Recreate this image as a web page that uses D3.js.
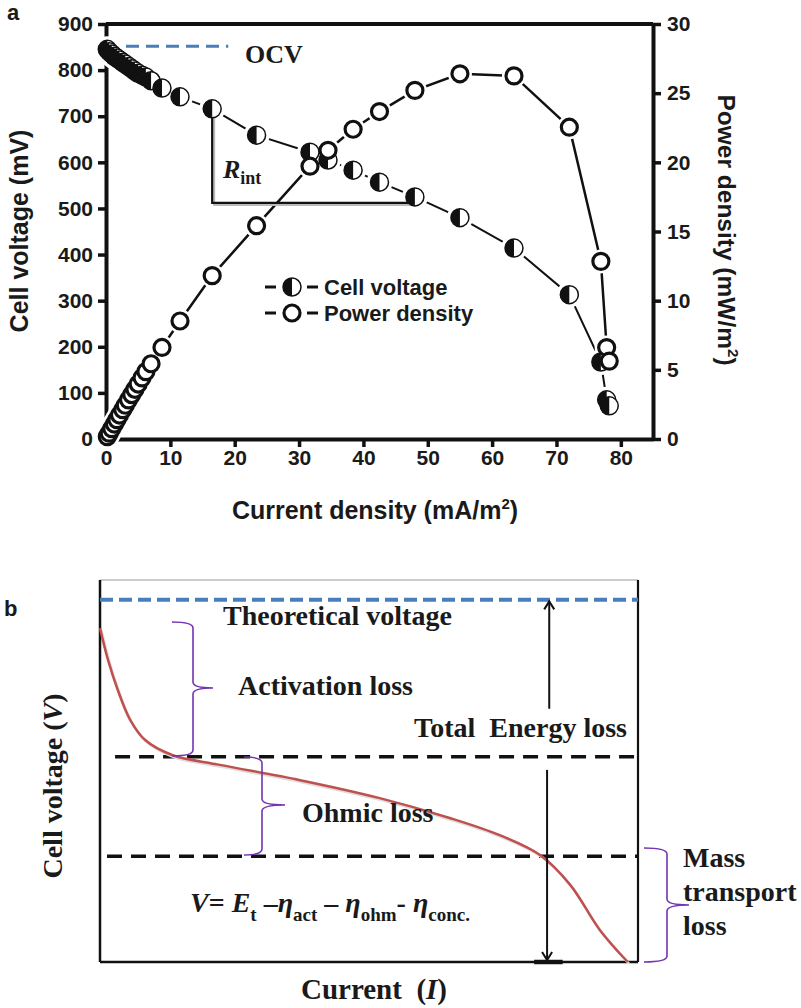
<!DOCTYPE html>
<html>
<head>
<meta charset="utf-8">
<script src="https://cdn.jsdelivr.net/npm/d3@7"></script>
<style>
  body { margin: 0; background: #fff; }
  svg { display: block; }
  .sans { font-family: "Liberation Sans", Arial, sans-serif; font-weight: bold; fill: #1a1a1a; }
  .serif { font-family: "Liberation Serif", "Times New Roman", serif; font-weight: bold; fill: #1a1a1a; }
</style>
</head>
<body>
<div id="chart"></div>
<script>
// ---- panel a: polarization + power density curve ----
const currentDensity = [0.2, 0.5, 0.9, 1.3, 1.7, 2.1, 2.6, 3.0, 3.5, 4.0, 4.5, 5.0, 5.6, 6.2, 7.0, 8.7,
    11.5, 16.5, 23.4, 31.7, 34.5, 38.4, 42.5, 48.0, 55.0, 63.4, 72.0, 76.9, 77.8, 78.2];
const cellVoltage = [845, 840, 835, 830, 826, 822, 817, 813, 808, 803, 798, 793, 789, 785, 777, 761,
    742, 716, 659, 622, 605, 583, 557, 525, 480, 414, 313, 167, 85, 72];
const powerDensity = [0.17, 0.42, 0.75, 1.08, 1.40, 1.73, 2.12, 2.44, 2.83, 3.21, 3.59, 3.97, 4.42, 4.87, 5.44, 6.62,
    8.53, 11.81, 15.42, 19.72, 20.87, 22.39, 23.67, 25.2, 26.4, 26.25, 22.54, 12.84, 6.61, 5.63];
const currentTicks = [0, 10, 20, 30, 40, 50, 60, 70, 80];
const voltageTicks = [0, 100, 200, 300, 400, 500, 600, 700, 800, 900];
const powerTicks = [0, 5, 10, 15, 20, 25, 30];
const ocvVoltage = 852;
const ocvCurrentEnd = 19;
// R_int triangle: from the 16.5 mA/m2 point down, then across to the 48 mA/m2 point
const rintCurrent = [16.5, 48.0];
const rintVoltage = [716, 512];

// ---- panel b: schematic polarization curve (arbitrary units 0-100) ----
const schematicCurrent = [0, 1.5, 3.3, 5.6, 8.4, 13.4, 22.3, 37.2, 52, 65, 74.3, 81.8, 87.4, 92.9, 98.1];
const schematicVoltage = [87.4, 79, 71.2, 63.4, 58.1, 54.2, 51.6, 47.6, 42.9, 37.7, 33.2, 28, 20.2, 8.4, 0];
const theoreticalLevel = 94.8;
const lossBoundaries = [53.7, 27.7];

const width = 801;
const height = 1008;
const svg = d3.select('#chart').append('svg')
    .attr('width', width)
    .attr('height', height);

const BLACK = '#111';
const BLUE = '#4a7ebb';
const RED = '#c0504d';
const PURPLE = '#7434b4';

function styleAxis(g, size) {
    g.attr('font-family', '"Liberation Sans", Arial, sans-serif')
        .attr('font-size', size)
        .attr('font-weight', 'bold');
    g.select('.domain').attr('stroke', BLACK).attr('stroke-width', 4);
    g.selectAll('.tick line').attr('stroke', BLACK).attr('stroke-width', 3.5);
    g.selectAll('.tick text').attr('fill', '#1a1a1a');
}

function halfMarker(g, r) {
    g.append('circle').attr('r', r).attr('fill', '#fff').attr('stroke', BLACK).attr('stroke-width', 1.5);
    g.append('path').attr('d', `M0,${-r} A${r},${r} 0 0,0 0,${r} Z`).attr('fill', BLACK);
}

function openMarker(g, r) {
    g.append('circle').attr('r', r).attr('fill', '#fff').attr('stroke', BLACK).attr('stroke-width', 3.2);
}

function drawPanelA() {
    const x = d3.scaleLinear().domain([0, 85]).range([106, 653]);
    const yV = d3.scaleLinear().domain([0, 900]).range([439, 24]);
    const yP = d3.scaleLinear().domain([0, 30]).range([439, 24]);
    const pts = currentDensity.map((c, i) => ({c, v: cellVoltage[i], p: powerDensity[i]}));

    const root = svg.append('g').classed('panel-a', true);

    // frame top
    root.append('line')
        .attr('x1', x(0)).attr('x2', x(85))
        .attr('y1', yV(900)).attr('y2', yV(900))
        .attr('stroke', BLACK).attr('stroke-width', 4);

    root.append('g')
        .attr('transform', `translate(0,${yV(0)})`)
        .call(d3.axisBottom(x).tickValues(currentTicks).tickSize(8).tickSizeOuter(0).tickPadding(3))
        .call(g => styleAxis(g, 21));
    root.append('g')
        .attr('transform', `translate(${x(0)},0)`)
        .call(d3.axisLeft(yV).tickValues(voltageTicks).tickSize(8).tickSizeOuter(0).tickPadding(5))
        .call(g => styleAxis(g, 21));
    root.append('g')
        .attr('transform', `translate(${x(85)},0)`)
        .call(d3.axisRight(yP).tickValues(powerTicks).tickSize(8).tickSizeOuter(0).tickPadding(6))
        .call(g => styleAxis(g, 21));

    // OCV line
    root.append('line')
        .attr('x1', x(0)).attr('x2', x(ocvCurrentEnd))
        .attr('y1', yV(ocvVoltage)).attr('y2', yV(ocvVoltage))
        .attr('stroke', BLUE).attr('stroke-width', 3)
        .attr('stroke-dasharray', '13,7');
    root.append('text').attr('class', 'serif')
        .attr('x', 245).attr('y', 63)
        .attr('font-size', 26)
        .text('OCV');

    const vLine = d3.line().x(d => x(d.c)).y(d => yV(d.v));
    const pLine = d3.line().x(d => x(d.c)).y(d => yP(d.p));
    root.append('path').attr('d', vLine(pts))
        .attr('fill', 'none').attr('stroke', BLACK).attr('stroke-width', 2);
    root.append('path').attr('d', pLine(pts))
        .attr('fill', 'none').attr('stroke', BLACK).attr('stroke-width', 2.5);

    // white halos so lines stop short of the markers
    const halos = root.append('g');
    pts.forEach(d => {
        halos.append('circle').attr('cx', x(d.c)).attr('cy', yV(d.v)).attr('r', 13).attr('fill', '#fff');
        halos.append('circle').attr('cx', x(d.c)).attr('cy', yP(d.p)).attr('r', 12).attr('fill', '#fff');
    });

    // R_int construction
    root.append('path')
        .attr('d', `M${x(rintCurrent[0]) + 2},${yV(rintVoltage[0]) + 2}V${yV(rintVoltage[1]) + 2}H${x(rintCurrent[1]) + 2}`)
        .attr('fill', 'none').attr('stroke', '#bbb').attr('stroke-width', 2);
    root.append('path')
        .attr('d', `M${x(rintCurrent[0])},${yV(rintVoltage[0])}V${yV(rintVoltage[1])}H${x(rintCurrent[1])}`)
        .attr('fill', 'none').attr('stroke', BLACK).attr('stroke-width', 2.2);
    const rt = root.append('text').attr('class', 'serif').attr('x', 223).attr('y', 178);
    rt.append('tspan').attr('font-size', 26).attr('font-style', 'italic').text('R');
    rt.append('tspan').attr('font-size', 18).attr('dy', 6).text('int');

    root.append('g').selectAll('g')
        .data(pts).join('g')
        .attr('transform', d => `translate(${x(d.c)},${yV(d.v)})`)
        .each(function() { halfMarker(d3.select(this), 9); });
    root.append('g').selectAll('g')
        .data(pts).join('g')
        .attr('transform', d => `translate(${x(d.c)},${yP(d.p)})`)
        .each(function() { openMarker(d3.select(this), 8); });

    // legend
    const legend = root.append('g');
    [['Cell voltage', halfMarker, 287], ['Power density', openMarker, 313]].forEach(([label, fn, ly]) => {
        legend.append('line').attr('x1', 265).attr('x2', 276).attr('y1', ly).attr('y2', ly)
            .attr('stroke', BLACK).attr('stroke-width', 3);
        legend.append('line').attr('x1', 307).attr('x2', 318).attr('y1', ly).attr('y2', ly)
            .attr('stroke', BLACK).attr('stroke-width', 3);
        const m = legend.append('g').attr('transform', `translate(292,${ly})`);
        fn(m, fn === halfMarker ? 9 : 8);
        legend.append('text').attr('class', 'sans')
            .attr('x', 324).attr('y', ly + 8)
            .attr('font-size', 22)
            .text(label);
    });

    // axis titles
    root.append('text').attr('class', 'sans')
        .attr('transform', 'translate(28,231) rotate(-90)')
        .attr('text-anchor', 'middle')
        .attr('font-size', 25)
        .text('Cell voltage (mV)');
    const xt = root.append('text').attr('class', 'sans')
        .attr('x', 375).attr('y', 519)
        .attr('text-anchor', 'middle')
        .attr('font-size', 25);
    xt.append('tspan').text('Current density (mA/m');
    xt.append('tspan').attr('font-size', 15).attr('dy', -10).text('2');
    xt.append('tspan').attr('dy', 10).text(')');
    const pt = root.append('text').attr('class', 'sans')
        .attr('transform', 'translate(718,230) rotate(90)')
        .attr('text-anchor', 'middle')
        .attr('font-size', 24.5);
    pt.append('tspan').text('Power density (mW/m');
    pt.append('tspan').attr('font-size', 15).attr('dy', -10).text('2');
    pt.append('tspan').attr('dy', 10).text(')');

    root.append('text').attr('class', 'sans')
        .attr('x', 7).attr('y', 20).attr('font-size', 22).text('a');
}

function brace(g, xv, yTop, yTip, yBot, hook, tip) {
    const c = 6;
    const d = `M${xv - hook},${yTop} Q${xv},${yTop} ${xv},${yTop + c}` +
        ` L${xv},${yTip - c} Q${xv},${yTip} ${xv + tip},${yTip}` +
        ` Q${xv},${yTip} ${xv},${yTip + c} L${xv},${yBot - c} Q${xv},${yBot} ${xv - hook},${yBot}`;
    g.append('path').attr('d', d)
        .attr('fill', 'none').attr('stroke', PURPLE).attr('stroke-width', 1.6);
}

function arrow(g, xv, yFrom, yTo) {
    const dir = yTo > yFrom ? 1 : -1;
    g.append('line').attr('x1', xv).attr('x2', xv).attr('y1', yFrom).attr('y2', yTo)
        .attr('stroke', BLACK).attr('stroke-width', 2);
    g.append('path')
        .attr('d', `M${xv - 5},${yTo - dir * 8} L${xv},${yTo} L${xv + 5},${yTo - dir * 8}`)
        .attr('fill', 'none').attr('stroke', BLACK).attr('stroke-width', 2);
}

function drawPanelB() {
    const x = d3.scaleLinear().domain([0, 100]).range([100, 638]);
    const y = d3.scaleLinear().domain([0, 100]).range([962, 580]);
    const pts = schematicCurrent.map((c, i) => ({c, v: schematicVoltage[i]}));
    const root = svg.append('g').classed('panel-b', true);

    // box
    root.append('line').attr('x1', x(0)).attr('x2', x(100)).attr('y1', y(100)).attr('y2', y(100))
        .attr('stroke', '#999').attr('stroke-width', 1.2);
    root.append('line').attr('x1', x(0)).attr('x2', x(0)).attr('y1', y(100)).attr('y2', y(0))
        .attr('stroke', BLACK).attr('stroke-width', 2.5);
    root.append('line').attr('x1', x(100)).attr('x2', x(100)).attr('y1', y(100)).attr('y2', y(0))
        .attr('stroke', BLACK).attr('stroke-width', 2.2);
    root.append('line').attr('x1', x(0)).attr('x2', x(100)).attr('y1', y(0)).attr('y2', y(0))
        .attr('stroke', BLACK).attr('stroke-width', 2.5);

    // theoretical voltage
    root.append('line').attr('x1', x(0)).attr('x2', x(100))
        .attr('y1', y(theoreticalLevel)).attr('y2', y(theoreticalLevel))
        .attr('stroke', BLUE).attr('stroke-width', 4).attr('stroke-dasharray', '13,6');
    // loss boundaries
    root.append('line').attr('x1', x(2.8)).attr('x2', x(100))
        .attr('y1', y(lossBoundaries[0])).attr('y2', y(lossBoundaries[0]))
        .attr('stroke', BLACK).attr('stroke-width', 3.5).attr('stroke-dasharray', '15,9');
    root.append('line').attr('x1', x(1.3)).attr('x2', x(100))
        .attr('y1', y(lossBoundaries[1])).attr('y2', y(lossBoundaries[1]))
        .attr('stroke', BLACK).attr('stroke-width', 3.5).attr('stroke-dasharray', '15,9');

    const line = d3.line().curve(d3.curveCatmullRom.alpha(0.5)).x(d => x(d.c)).y(d => y(d.v));
    root.append('path').attr('d', line(pts))
        .attr('fill', 'none').attr('stroke', '#ddd').attr('stroke-width', 2.5)
        .attr('transform', 'translate(1.5,2)');
    root.append('path').attr('d', line(pts))
        .attr('fill', 'none').attr('stroke', RED).attr('stroke-width', 2.5);

    // arrows
    arrow(root, x(83.5), y(66.3), y(94.4));
    arrow(root, x(83.1), y(50.3), y(0.5));
    root.append('line').attr('x1', x(80.7)).attr('x2', x(86)).attr('y1', y(0)).attr('y2', y(0))
        .attr('stroke', BLACK).attr('stroke-width', 4.5);

    // braces
    brace(root, 193, 622, 688, 756, 21, 20);
    brace(root, 262, 757, 805, 855, 18, 23);
    brace(root, 667, 848, 905, 962, 23, 22);

    const T = (tx, ty, s, size = 28) => root.append('text').attr('class', 'serif')
        .attr('x', tx).attr('y', ty).attr('font-size', size).text(s);
    T(223, 625, 'Theoretical voltage');
    T(238, 695, 'Activation loss');
    T(627, 737, 'Total  Energy loss').attr('text-anchor', 'end').style('white-space', 'pre');
    T(302, 822, 'Ohmic loss');
    T(683, 867, 'Mass');
    T(683, 901, 'transport');
    T(683, 935, 'loss');

    // equation
    const eq = root.append('text').attr('class', 'serif').attr('x', 190).attr('y', 912).attr('font-size', 28)
        .style('white-space', 'pre');
    const parts = [
        ['V', 'i'], ['= ', ''], ['E', 'i'], ['t', 's'], [' \u2013', ''], ['\u03b7', 'i'], ['act', 's'],
        [' \u2013 ', ''], ['\u03b7', 'i'], ['ohm', 's'], ['- ', ''], ['\u03b7', 'i'], ['conc.', 's']
    ];
    let sub = false;
    parts.forEach(([s, k]) => {
        const t = eq.append('tspan').text(s);
        if (k === 'i') t.attr('font-style', 'italic');
        if (k === 's' && !sub) { t.attr('font-size', 19).attr('dy', 9); sub = true; }
        else if (k === 's') t.attr('font-size', 19);
        else if (sub) { t.attr('dy', -9); sub = false; }
    });

    // axis titles
    root.append('text').attr('class', 'serif')
        .attr('transform', 'translate(62,786) rotate(-90)')
        .attr('text-anchor', 'middle').attr('font-size', 28)
        .style('white-space', 'pre')
        .call(t => {
            t.append('tspan').text('Cell voltage (');
            t.append('tspan').attr('font-style', 'italic').text('V');
            t.append('tspan').text(')');
        });
    root.append('text').attr('class', 'serif')
        .attr('x', 374).attr('y', 999)
        .attr('text-anchor', 'middle').attr('font-size', 29)
        .style('white-space', 'pre')
        .call(t => {
            t.append('tspan').text('Current  (');
            t.append('tspan').attr('font-style', 'italic').text('I');
            t.append('tspan').text(')');
        });

    root.append('text').attr('class', 'sans')
        .attr('x', 4).attr('y', 616).attr('font-size', 22).text('b');
}

drawPanelA();
drawPanelB();
</script>
</body>
</html>
